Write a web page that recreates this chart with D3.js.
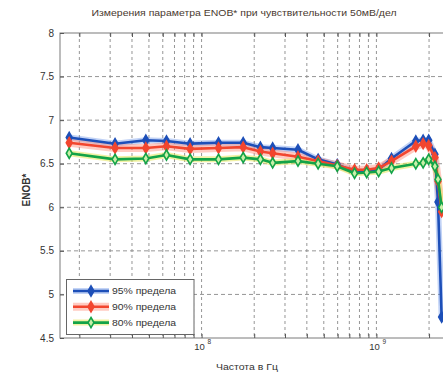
<!DOCTYPE html>
<html>
<head>
<meta charset="utf-8">
<script src="https://cdn.jsdelivr.net/npm/d3@7"></script>
<style>
html,body{margin:0;padding:0;background:#fff;overflow:hidden;}
svg{display:block;font-family:"Liberation Sans",Arial,sans-serif;}
</style>
</head>
<body>
<svg id="chart" width="443" height="374"></svg>
<script>
// ---- data ----
const titleText = "Измерения параметра ENOB* при чувствительности 50мВ/дел";
const xLabel = "Частота в Гц";
const yLabel = "ENOB*";
const freqs = [1.75e7, 3.2e7, 4.8e7, 6.3e7, 8.6e7, 1.25e8, 1.73e8, 2.17e8, 2.55e8, 3.56e8,
               4.64e8, 5.97e8, 7.5e8, 8.8e8, 1.03e9, 1.22e9, 1.68e9, 1.85e9, 1.99e9, 2.16e9,
               2.25e9, 2.36e9];
const enob95 = [6.80, 6.73, 6.77, 6.76, 6.73, 6.74, 6.74, 6.69, 6.68, 6.66,
                6.55, 6.49, 6.41, 6.41, 6.43, 6.56, 6.76, 6.77, 6.77, 6.61,
                6.06, 4.74];
const enob90 = [6.74, 6.68, 6.68, 6.70, 6.67, 6.68, 6.69, 6.64, 6.62, 6.58,
                6.53, 6.48, 6.43, 6.43, 6.45, 6.53, 6.70, 6.73, 6.71, 6.57,
                6.30, 5.95];
const enob80 = [6.62, 6.55, 6.56, 6.60, 6.55, 6.55, 6.57, 6.55, 6.51, 6.53,
                6.50, 6.47, 6.39, 6.40, 6.41, 6.45, 6.50, 6.51, 6.55, 6.47,
                6.32, 6.00];
const seriesNames = ["95% предела", "90% предела", "80% предела"];
const yTicks = [4.5, 5, 5.5, 6, 6.5, 7, 7.5, 8];
const xMajor = [1e8, 1e9];
const xMajorLabels = ["8", "9"];

// ---- layout ----
const svg = d3.select("#chart");
const L = 60, T = 33, B = 338, R = 446;
const x = d3.scaleLog().domain([1.55e7, 2.5e9]).range([L, R]);
const y = d3.scaleLinear().domain([4.5, 8]).range([B, T]);

const colors = ["#1d4fb8", "#f2462f", "#13a348"];
const halos = ["rgba(80,130,230,0.35)", "rgba(255,140,120,0.45)", "rgba(230,230,90,0.55)"];
const fills = ["#1d4fb8", "#f2462f", "#c9f0a8"];

// grid
const gridX = [];
for (let e = 7; e <= 9; e++) for (let m = 1; m <= 9; m++) {
  const v = m * Math.pow(10, e);
  if (v > x.domain()[0] && v < x.domain()[1]) gridX.push(v);
}
const g = svg.append("g");
g.selectAll("line.gx").data(gridX).enter().append("line")
  .attr("x1", d => x(d)).attr("x2", d => x(d)).attr("y1", T).attr("y2", B)
  .attr("stroke", "#8a8a8a").attr("stroke-width", 0.9).attr("stroke-dasharray", "3,3");
g.selectAll("line.gy").data(yTicks.filter(v => v > 4.5 && v < 8)).enter().append("line")
  .attr("x1", L).attr("x2", R).attr("y1", d => y(d)).attr("y2", d => y(d))
  .attr("stroke", "#8a8a8a").attr("stroke-width", 0.9).attr("stroke-dasharray", "4,3");

// axes box
svg.append("rect").attr("x", L).attr("y", T).attr("width", R - L).attr("height", B - T)
  .attr("fill", "none").attr("stroke", "#7a7a7a").attr("stroke-width", 1);

// ticks
const axB = d3.axisBottom(x).tickValues(gridX).tickSize(-4).tickFormat("");
const axT = d3.axisTop(x).tickValues(gridX).tickSize(-4).tickFormat("");
const axL = d3.axisLeft(y).tickValues(yTicks).tickSize(-4).tickFormat("");
[svg.append("g").attr("transform", `translate(0,${B})`).call(axB),
 svg.append("g").attr("transform", `translate(0,${T})`).call(axT),
 svg.append("g").attr("transform", `translate(${L},0)`).call(axL)].forEach(a => {
  a.select(".domain").remove();
  a.selectAll("line").attr("stroke", "#555");
});

// y tick labels
svg.selectAll("text.yt").data(yTicks).enter().append("text")
  .attr("x", L - 6).attr("y", d => y(d) + 3.5).attr("text-anchor", "end")
  .attr("font-size", 10).attr("fill", "#333").text(d => String(d));

// x tick labels (10^n)
xMajor.forEach((v, i) => {
  const t = svg.append("text").attr("x", x(v) - 2).attr("y", 350).attr("text-anchor", "middle")
    .attr("font-size", 9.5).attr("fill", "#333").text("10");
  svg.append("text").attr("x", x(v) + 6).attr("y", 344).attr("font-size", 6.5)
    .attr("fill", "#333").text(xMajorLabels[i]);
});

// labels
svg.append("text").attr("x", 244).attr("y", 16).attr("text-anchor", "middle")
  .attr("font-size", 9).attr("fill", "#4a3a30").attr("textLength", 305)
  .attr("lengthAdjust", "spacingAndGlyphs").text(titleText);
svg.append("text").attr("x", 247).attr("y", 370).attr("text-anchor", "middle")
  .attr("font-size", 9).attr("fill", "#333").attr("textLength", 62)
  .attr("lengthAdjust", "spacingAndGlyphs").text(xLabel);
svg.append("text").attr("transform", "translate(30,190) rotate(-90)").attr("text-anchor", "middle")
  .attr("font-size", 10).attr("font-weight", "bold").attr("fill", "#333").text(yLabel);

// data
svg.append("clipPath").attr("id", "clip").append("rect")
  .attr("x", L).attr("y", T).attr("width", R - L).attr("height", B - T);
const plot = svg.append("g").attr("clip-path", "url(#clip)");
const line = d3.line().x(d => x(d[0])).y(d => y(d[1]));
const diamond = d3.symbol().type(d3.symbolDiamond).size(30);
const allSeries = [enob95, enob90, enob80];

allSeries.forEach((vals, i) => {
  const pts = freqs.map((f, j) => [f, vals[j]]);
  plot.append("path").attr("d", line(pts)).attr("fill", "none")
    .attr("stroke", halos[i]).attr("stroke-width", i === 1 ? 8 : 6).attr("stroke-linejoin", "round");
});
allSeries.forEach((vals, i) => {
  const pts = freqs.map((f, j) => [f, vals[j]]);
  const sg = plot.append("g");
  sg.append("path").attr("d", line(pts)).attr("fill", "none")
    .attr("stroke", colors[i]).attr("stroke-width", 2.6).attr("stroke-linejoin", "round");
  sg.selectAll("path.m").data(pts).enter().append("path")
    .attr("transform", d => `translate(${x(d[0])},${y(d[1])})`)
    .attr("d", diamond).attr("fill", fills[i]).attr("stroke", colors[i]).attr("stroke-width", 1.6);
});

// legend
const lg = svg.append("g");
lg.append("rect").attr("x", 66.5).attr("y", 279.5).attr("width", 127.5).attr("height", 55)
  .attr("fill", "#fff").attr("stroke", "#666").attr("stroke-width", 1);
seriesNames.forEach((n, i) => {
  const yy = 291 + i * 15.8;
  lg.append("line").attr("x1", 73).attr("x2", 109).attr("y1", yy).attr("y2", yy)
    .attr("stroke", halos[i]).attr("stroke-width", i === 1 ? 8 : 6);
  lg.append("line").attr("x1", 73).attr("x2", 109).attr("y1", yy).attr("y2", yy)
    .attr("stroke", colors[i]).attr("stroke-width", 2.6);
  lg.append("path").attr("transform", `translate(91,${yy})`).attr("d", diamond)
    .attr("fill", fills[i]).attr("stroke", colors[i]).attr("stroke-width", 1.6);
  lg.append("text").attr("x", 112).attr("y", yy + 3).attr("font-size", 8.5).attr("fill", "#333")
    .attr("textLength", 64).attr("lengthAdjust", "spacingAndGlyphs").text(n);
});
</script>
</body>
</html>
